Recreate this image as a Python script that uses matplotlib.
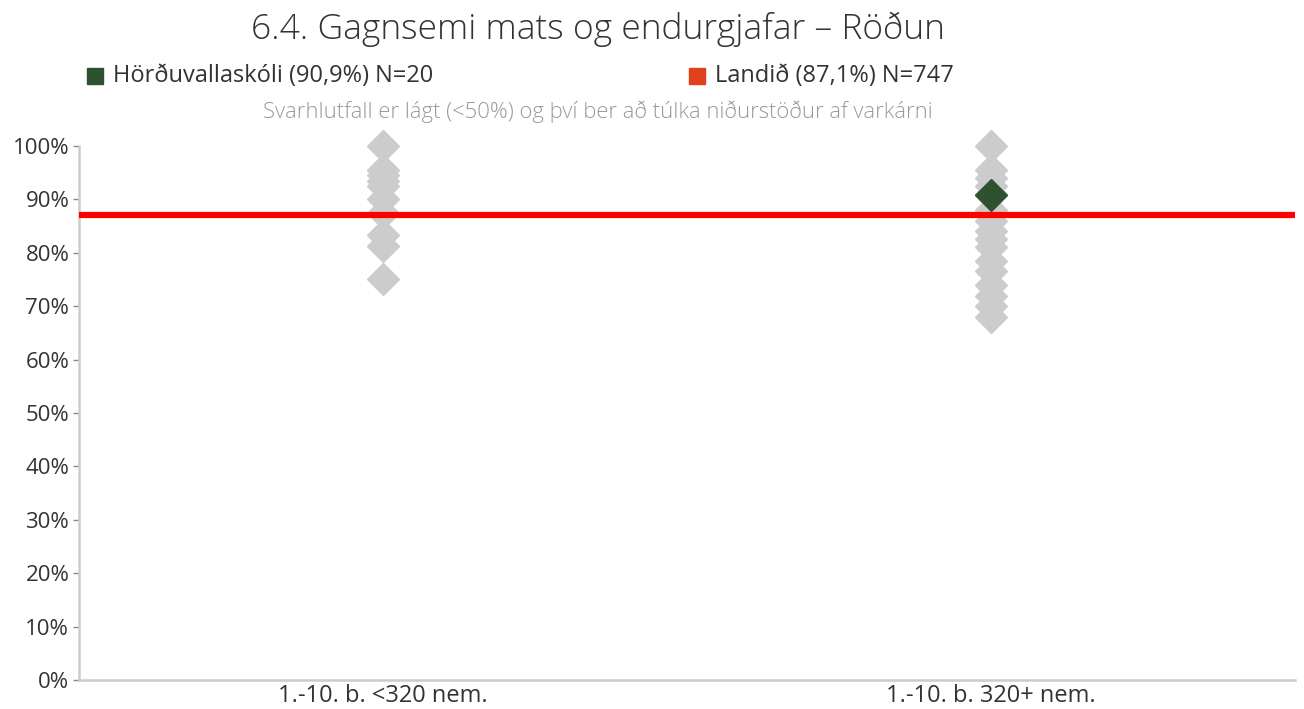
import matplotlib
matplotlib.use("Agg")
import matplotlib.pyplot as plt
from matplotlib.ticker import FuncFormatter

plt.rcParams['font.family'] = ['Open Sans', 'DejaVu Sans']

categories = ["1.-10. b. <320 nem.", "1.-10. b. 320+ nem."]
others_small = [100, 95.5, 94.5, 93.5, 92.5, 90.0, 87.5, 83.3, 81.3, 75.0]
others_large = [100, 95.5, 94.0, 92.5, 91.0, 88.0, 86.0, 84.0, 82.5, 81.0,
                78.5, 76.5, 74.0, 72.0, 70.0, 68.0]
school_name = "Hörðuvallaskóli"
school_value = 90.9
school_n = 20
school_category = 1
national_value = 87.1
national_n = 747
yticks = list(range(0, 101, 10))

title = "6.4. Gagnsemi mats og endurgjafar – Röðun"
note = "Svarhlutfall er lágt (<50%) og því ber að túlka niðurstöður af varkárni"

grey = "#CCCCCC"
green = "#2E5230"
legend_red = "#E0401C"
line_red = "#FF0000"
text_col = "#333333"

fig = plt.figure(figsize=(13.04, 7.09), dpi=100)
ax = fig.add_axes([79/1304, 1 - 680/709, (1295-79)/1304, (680-146)/709])

for i, vals in enumerate([others_small, others_large]):
    ax.plot([i]*len(vals), vals, linestyle='none', marker='D', markersize=16,
            color=grey, zorder=2, clip_on=False)

ax.plot([school_category], [school_value], linestyle='none', marker='D',
        markersize=16, color=green, zorder=4, clip_on=False)

ax.axhline(national_value, color=line_red, linewidth=4.5, zorder=3)

ax.set_xlim(-0.5, 1.5)
ax.set_ylim(0, 100)
ax.set_yticks(yticks)
ax.yaxis.set_major_formatter(FuncFormatter(lambda v, p: f"{int(v)}%"))
ax.set_xticks(range(len(categories)))
ax.set_xticklabels(categories)
ax.tick_params(axis='y', labelsize=16, colors='#888888', labelcolor=text_col,
               length=4, width=1, pad=3)
ax.tick_params(axis='x', labelsize=17, labelcolor=text_col, length=0, pad=3)
for s in ['top', 'right']:
    ax.spines[s].set_visible(False)
for s in ['left', 'bottom']:
    ax.spines[s].set_color('#CCCCCC')
    ax.spines[s].set_linewidth(1.8)

fig.text(598/1304, 1 - 29/709, title, ha='center', va='center',
         fontsize=25.5, color=text_col, fontweight='light')

# legend row
fig.patches.append(plt.Rectangle((87/1304, 1 - 84/709), 16/1304, 16/709,
                                 transform=fig.transFigure, color=green))
fig.text(113/1304, 1 - 76/709,
         f"{school_name} ({school_value:.1f}%) N={school_n}".replace('.', ','),
         ha='left', va='center', fontsize=17, color=text_col)
fig.patches.append(plt.Rectangle((689/1304, 1 - 84/709), 16/1304, 16/709,
                                 transform=fig.transFigure, color=legend_red))
fig.text(715/1304, 1 - 76/709,
         f"Landið ({national_value:.1f}%) N={national_n}".replace('.', ','),
         ha='left', va='center', fontsize=17, color=text_col)

fig.text(598/1304, 1 - 112/709, note, ha='center', va='center',
         fontsize=15.8, color='#999999', fontweight='light')

fig.savefig("out.png", dpi=100)
